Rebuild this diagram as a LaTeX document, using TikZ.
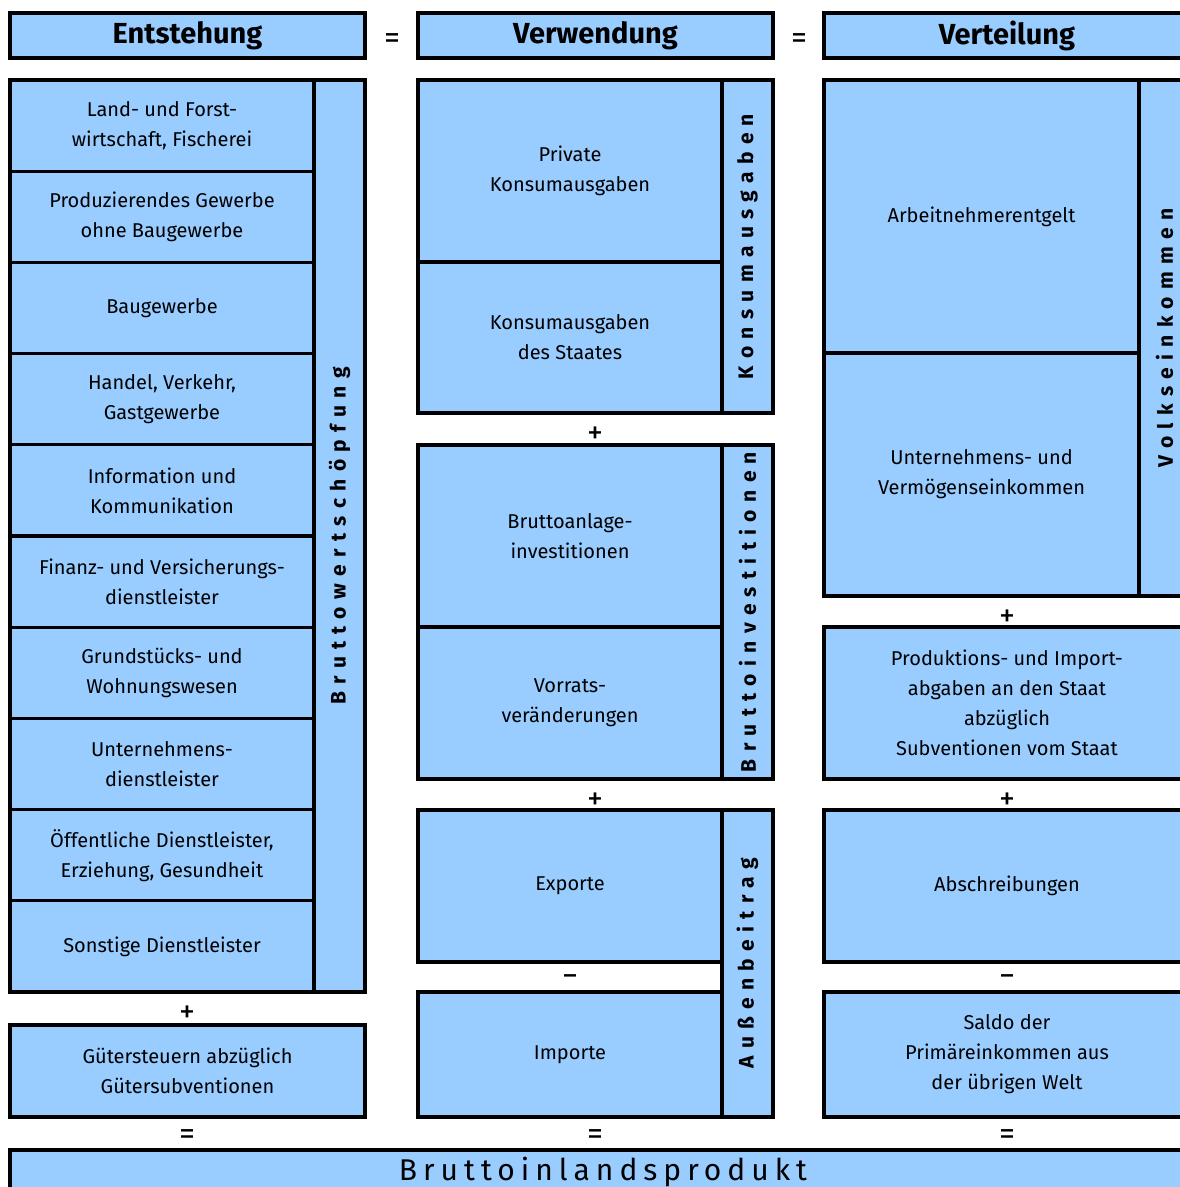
\documentclass[tikz,border=0pt]{standalone}
\usepackage{fontspec}
\setmainfont{Fira Sans}
\newfontfamily\sperrschrift[LetterSpace=35]{Fira Sans}
\newfontfamily\bipschrift[LetterSpace=20]{Fira Sans}
\usetikzlibrary{positioning}
\definecolor{vgrblau}{HTML}{99CCFF}

\begin{document}
\begin{tikzpicture}[x=1pt, y=-1pt,
    feld/.style={draw, fill=vgrblau, line width=3.2pt, inner sep=0pt, align=center,
      font=\fontsize{20}{30}\selectfont},
    kopf/.style={feld, font=\fontsize{29}{34}\selectfont\bfseries},
    leiste/.style={feld, rotate=90, font=\fontsize{21}{24}\selectfont\sperrschrift\bfseries},
    zeichen/.style={inner sep=0pt, yshift=-4pt, font=\fontsize{32}{32}\selectfont}]
            % Rahmen: rechter Rand ist abgeschnitten
            \useasboundingbox (0,0) rectangle (1180,1187);
            \clip (0,0) rectangle (1180,1187);

            % Kopfzeile
            \node[kopf, minimum width=355, minimum height=45] (entst) at (187.5, 35.5) {Entstehung};
            \node[kopf, minimum width=355, minimum height=45] (verw) at (595.5, 35.5) {Verwendung};
            \node[kopf, minimum width=366, minimum height=45] (vert) at (1007, 35.5) {Verteilung};
            \node[zeichen] (gl1) at (392, 37) {=};
            \node[zeichen] (gl2) at (799, 37) {=};

            % Entstehung -- Wirtschaftsbereiche
            \node[feld, minimum width=304, minimum height=91.2] (land) at (162, 125.6) {Land- und Forst-\\wirtschaft, Fischerei};
            \node[feld, minimum width=304, minimum height=91.2] (prod) at (162, 216.8) {Produzierendes Gewerbe\\ohne Baugewerbe};
            \node[feld, minimum width=304, minimum height=91.2] (bau) at (162, 308) {Baugewerbe};
            \node[feld, minimum width=304, minimum height=91.2] (handel) at (162, 399.2) {Handel, Verkehr,\\Gastgewerbe};
            \node[feld, minimum width=304, minimum height=91.2] (info) at (162, 490.4) {Information und\\Kommunikation};
            \node[feld, minimum width=304, minimum height=91.2] (finanz) at (162, 581.6) {Finanz- und Versicherungs-\\dienstleister};
            \node[feld, minimum width=304, minimum height=91.2] (grund) at (162, 672.8) {Grundstücks- und\\Wohnungswesen};
            \node[feld, minimum width=304, minimum height=91.2] (untdl) at (162, 764) {Unternehmens-\\dienstleister};
            \node[feld, minimum width=304, minimum height=91.2] (oeff) at (162, 855.2) {Öffentliche Dienstleister,\\Erziehung, Gesundheit};
            \node[feld, minimum width=304, minimum height=91.2] (sonst) at (162, 946.4) {Sonstige Dienstleister};
            \node[leiste, minimum width=912, minimum height=51] (bws) at (339.5, 536) {Bruttowertschöpfung};
            \node[zeichen] (plus1) at (187, 1010) {+};
            \node[feld, minimum width=355, minimum height=92] (gueter) at (187.5, 1071) {Gütersteuern abzüglich\\Gütersubventionen};
            \node[zeichen] (gl3) at (187, 1133) {=};

            % Verwendung
            \node[feld, minimum width=304, minimum height=182] (privat) at (570, 171) {Private\\Konsumausgaben};
            \node[feld, minimum width=304, minimum height=151] (staat) at (570, 337.5) {Konsumausgaben\\des Staates};
            \node[leiste, minimum width=333, minimum height=51] (konsum) at (747.5, 246.5) {Konsumausgaben};
            \node[zeichen] (plus2) at (595, 431) {+};
            \node[feld, minimum width=304, minimum height=182] (anlage) at (570, 536) {Bruttoanlage-\\investitionen};
            \node[feld, minimum width=304, minimum height=152] (vorrat) at (570, 703) {Vorrats-\\veränderungen};
            \node[leiste, minimum width=334, minimum height=51] (invest) at (747.5, 612) {Bruttoinvestitionen};
            \node[zeichen] (plus3) at (595, 797) {+};
            \node[feld, minimum width=304, minimum height=152] (export) at (570, 886) {Exporte};
            \node[zeichen] (minus1) at (570, 977) {−};
            \node[feld, minimum width=304, minimum height=125] (import) at (570, 1054.5) {Importe};
            \node[leiste, minimum width=307, minimum height=51] (aussen) at (747.5, 963.5) {Außenbeitrag};
            \node[zeichen] (gl4) at (595, 1133) {=};

            % Verteilung
            \node[feld, minimum width=315, minimum height=273] (arbeit) at (981.5, 216.5) {Arbeitnehmerentgelt};
            \node[feld, minimum width=315, minimum height=243] (vermoegen) at (981.5, 474.5) {Unternehmens- und\\Vermögenseinkommen};
            \node[leiste, minimum width=516, minimum height=51] (volk) at (1164.5, 338) {Volkseinkommen};
            \node[zeichen] (plus4) at (1007, 614) {+};
            \node[feld, minimum width=366, minimum height=152] (abgaben) at (1007, 703) {Produktions- und Import-\\abgaben an den Staat\\abzüglich\\Subventionen vom Staat};
            \node[zeichen] (plus5) at (1007, 797) {+};
            \node[feld, minimum width=366, minimum height=152] (abschr) at (1007, 886) {Abschreibungen};
            \node[zeichen] (minus2) at (1007, 977) {−};
            \node[feld, minimum width=366, minimum height=125] (saldo) at (1007, 1054.5) {Saldo der\\Primäreinkommen aus\\der übrigen Welt};
            \node[zeichen] (gl5) at (1007, 1133) {=};

            % Ergebnis
            \node[feld, minimum width=1186, minimum height=44, font=\fontsize{30}{34}\selectfont\bipschrift] (bip) at (603, 1172) {Bruttoinlandsprodukt};
        \end{tikzpicture}
\end{document}
